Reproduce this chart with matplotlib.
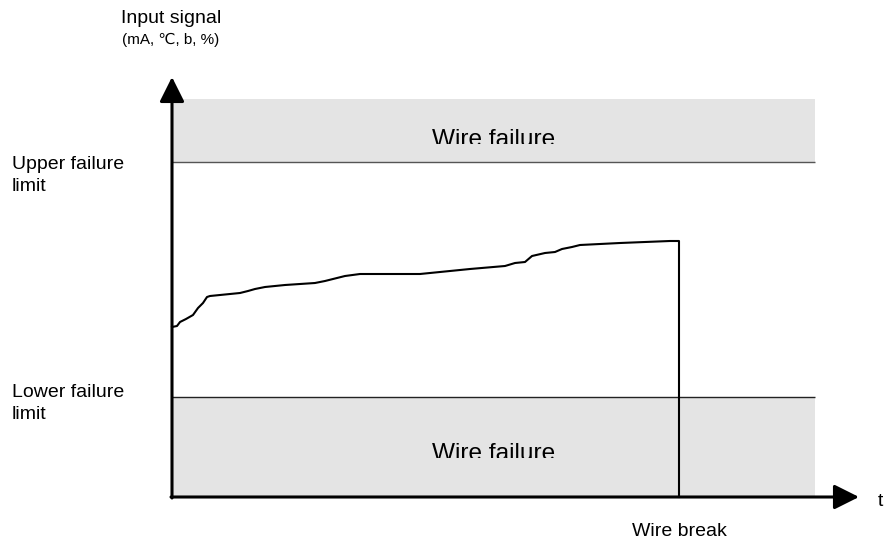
import numpy as np
import matplotlib
matplotlib.use("Agg")
import matplotlib.pyplot as plt
from matplotlib.patches import Rectangle

plt.rcParams['font.family'] = ['Liberation Sans', 'DejaVu Sans']

# input signal over time (arbitrary units, origin at the axes corner)
t_sig = [0, 5, 8, 14, 21, 26, 31, 35, 38, 68, 76, 83, 93, 113, 128, 143, 153,
         161, 173, 188, 208, 248, 258, 268, 298, 333, 343, 353, 360, 373, 383,
         390, 400, 408, 448, 498, 507]
sig = [170, 171, 175, 178, 182, 189, 194, 200, 201, 204, 206, 208, 210, 212,
       213, 214, 216, 218, 221, 223, 223, 223, 224, 225, 228, 231, 234, 235,
       241, 244, 245, 248, 250, 252, 254, 256, 256]

t_break = 507          # wire break instant, signal drops to zero
lower_limit = 100
upper_limit = 335
band_top = 398
t_end = 643
y_tip = 420
t_tip = 687

fig = plt.figure(figsize=(8.87, 5.42), dpi=100)
ax = fig.add_axes([0, 0, 1, 1])
ax.set_xlim(-172, 715)
ax.set_ylim(-45, 497)
ax.axis('off')

# failure bands
band_col = '#e4e4e4'
ax.fill_between([0, t_end], upper_limit, band_top, color=band_col, lw=0, zorder=1)
ax.fill_between([0, t_end], 0, lower_limit, color=band_col, lw=0, zorder=1)
ax.hlines(upper_limit, 0, t_end, color='#555555', lw=1.0, zorder=3)
ax.hlines(lower_limit, 0, t_end, color='#222222', lw=1.0, zorder=3)

# band captions, cut off just above the baseline
mid = t_end / 2
for base in (upper_limit + 15.5, lower_limit - 63.5):
    t = ax.text(mid, base, 'Wire failure', fontsize=17.6,
                ha='center', va='baseline', zorder=2)
    t.set_clip_path(Rectangle((0, base + 2.5), t_end, 100,
                              transform=ax.transData))
    t.set_clip_on(True)

# signal with wire break
ax.plot(t_sig + [t_break], sig + [0], color='black', lw=1.5, zorder=4,
        solid_joinstyle='round')

# axes with arrow heads
arrow = dict(arrowstyle='-|>,head_length=0.4,head_width=0.2', lw=2.2,
             color='black', mutation_scale=38, shrinkA=0, shrinkB=0)
ax.annotate('', xy=(0, y_tip), xytext=(0, -1), arrowprops=arrow, zorder=5)
ax.annotate('', xy=(t_tip, 0), xytext=(-1, 0), arrowprops=arrow, zorder=5)

# labels
ax.text(-1, 497 - 23, 'Input signal', fontsize=14, ha='center', va='baseline')
ax.text(-1, 497 - 44, '(mA, \u2103, b, %)', fontsize=11, ha='center', va='baseline')
ax.text(-160, 497 - 156, 'Upper failure\nlimit', fontsize=14, ha='left',
        va='top', linespacing=1.4)
ax.text(-160, 497 - 384, 'Lower failure\nlimit', fontsize=14, ha='left',
        va='top', linespacing=1.4)
ax.text(t_break, 497 - 523, 'Wire break', fontsize=14, ha='center', va='top')
ax.text(706, 497 - 506, 't', fontsize=14, ha='left', va='baseline')

fig.savefig('out.png', dpi=100)
